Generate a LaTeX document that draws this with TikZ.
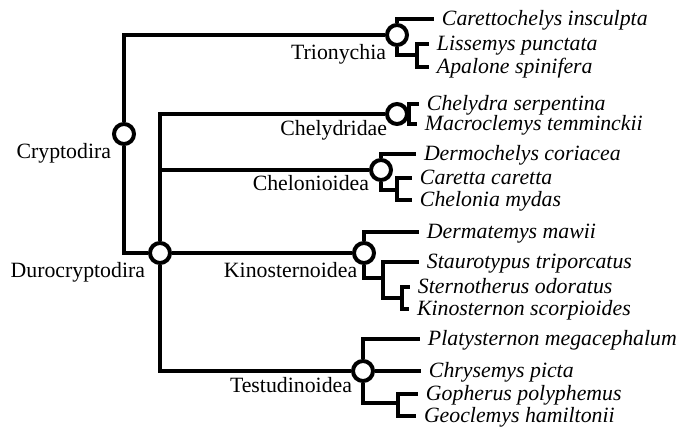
\documentclass[tikz,border=0pt]{standalone}
\usepackage{fontspec}
\setmainfont{Liberation Serif}
\usepackage{tikz}

\begin{document}
\begin{tikzpicture}[
    x=0.5pt, y=-0.5pt,
    clade/.style={circle, draw, fill=white, line width=2pt, minimum size=10pt, inner sep=0pt},
    taxon/.style={inner sep=0pt, font=\fontsize{10.9}{12}\selectfont},
    species/.style={anchor=west, inner xsep=3pt, inner ysep=0pt, text height=8pt, text depth=1.5pt, font=\fontsize{10.9}{12}\selectfont\itshape},
    every path/.style={line width=2pt}
]
  \useasboundingbox (0,0) rectangle (677,427);

  % Clades
  \node[clade] (cryp) at (124,134) {};
  \node[clade] (duro) at (160,253) {};
  \node[clade] (trion) at (397,35) {};
  \node[clade] (chely) at (397,114) {};
  \node[clade] (cheln) at (381,170) {};
  \node[clade] (kinos) at (364,253) {};
  \node[clade] (testu) at (363,371) {};

  % Clade names
  \node[taxon, anchor=base east] (cryplab) at (113,159) {Cryptodira};
  \node[taxon, anchor=base east] (durolab) at (147,278) {Durocryptodira};
  \node[taxon, anchor=base east] (trionlab) at (388,60) {Trionychia};
  \node[taxon, anchor=base east] (chelylab) at (389,136) {Chelydridae};
  \node[taxon, anchor=base east] (chelnlab) at (371,191) {Chelonioidea};
  \node[taxon, anchor=base west] (kinoslab) at (222,278) {Kinosternoidea};
  \node[taxon, anchor=base west] (testulab) at (228,393) {Testudinoidea};

  % Species
  \node[species] (carett) at (434,19) {Carettochelys insculpta};
  \node[species] (lissem) at (429,44) {Lissemys punctata};
  \node[species] (apal) at (429,67) {Apalone spinifera};
  \node[species] (chelyd) at (419,104) {Chelydra serpentina};
  \node[species] (macro) at (417,124) {Macroclemys temminckii};
  \node[species] (dermo) at (416,154) {Dermochelys coriacea};
  \node[species] (caret) at (412,178) {Caretta caretta};
  \node[species] (chelo) at (412,200) {Chelonia mydas};
  \node[species] (dermat) at (419,232) {Dermatemys mawii};
  \node[species] (stauro) at (419,262) {Staurotypus triporcatus};
  \node[species] (sterno) at (410,287) {Sternotherus odoratus};
  \node[species] (kinost) at (409,309) {Kinosternon scorpioides};
  \node[species] (platy) at (420,339) {Platysternon megacephalum};
  \node[species] (chrys) at (421,371) {Chrysemys picta};
  \node[species] (gopher) at (418,394) {Gopherus polyphemus};
  \node[species] (geocl) at (416,416) {Geoclemys hamiltonii};

  % Inner forks
  \coordinate (trion-in) at (417,55);
  \coordinate (chely-in) at (409,114);
  \coordinate (cheln-in) at (397,190);
  \coordinate (kinos-a) at (383,278);
  \coordinate (kinos-b) at (402,298);
  \coordinate (testu-in) at (398,403);

  % Backbone
  \draw (cryp.north) |- (trion.west);
  \draw (cryp.south) |- (duro.west);
  \draw (duro.north) |- (chely.west);
  \draw (duro.north) |- (cheln.west);
  \draw (duro.east) -- (kinos.west);
  \draw (duro.south) |- (testu.west);

  % Trionychia
  \draw (trion.north) |- (carett.west);
  \draw (trion.south) |- (trion-in);
  \draw (lissem.west) -| (trion-in) |- (apal.west);

  % Chelydridae
  \draw (chely.east) -- (chely-in);
  \draw (chelyd.west) -| (chely-in) |- (macro.west);

  % Chelonioidea
  \draw (cheln.north) |- (dermo.west);
  \draw (cheln.south) |- (cheln-in);
  \draw (caret.west) -| (cheln-in) |- (chelo.west);

  % Kinosternoidea
  \draw (kinos.north) |- (dermat.west);
  \draw (kinos.south) |- (kinos-a);
  \draw (stauro.west) -| (kinos-a) |- (kinos-b);
  \draw (sterno.west) -| (kinos-b) |- (kinost.west);

  % Testudinoidea
  \draw (testu.north) |- (platy.west);
  \draw (testu.east) -- (chrys.west);
  \draw (testu.south) |- (testu-in);
  \draw (gopher.west) -| (testu-in) |- (geocl.west);
\end{tikzpicture}
\end{document}
